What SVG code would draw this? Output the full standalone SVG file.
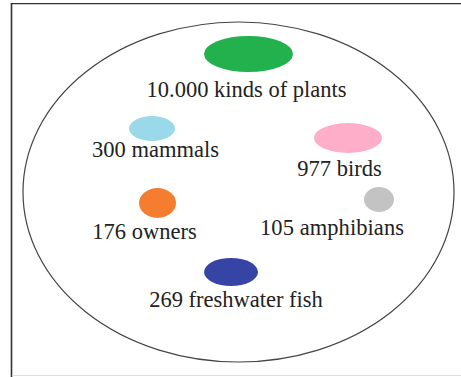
<svg xmlns="http://www.w3.org/2000/svg" width="461" height="377" viewBox="0 0 461 377">
<style>
text{font-family:"Liberation Serif","Times New Roman",serif;font-size:22.5px;fill:#222;text-anchor:middle}
</style>
<rect x="0" y="0" width="461" height="377" fill="#fff"/>
<g id="frame">
<line x1="11.5" y1="3" x2="11.5" y2="377" stroke="#333" stroke-width="1.6"/>
<line x1="11" y1="3.6" x2="461" y2="3.6" stroke="#333" stroke-width="1.4"/>
<line x1="12" y1="375.5" x2="461" y2="375.5" stroke="#ddd" stroke-width="1"/>
</g>
<g id="boundary">
<ellipse cx="238.5" cy="192" rx="215.5" ry="170" fill="none" stroke="#444" stroke-width="1.2"/>
</g>
<g id="plants">
<ellipse cx="248.5" cy="54" rx="44.5" ry="18" fill="#22b14c"/>
<text x="246.5" y="96.5">10.000 kinds of plants</text>
</g>
<g id="mammals">
<ellipse cx="152" cy="128.5" rx="23" ry="12.5" fill="#99d9ea"/>
<text x="155.5" y="157">300 mammals</text>
</g>
<g id="birds">
<ellipse cx="348" cy="138" rx="34" ry="15" fill="#ffaec9"/>
<text x="339.5" y="175.5">977 birds</text>
</g>
<g id="owners">
<ellipse cx="157.5" cy="203" rx="18.5" ry="15" fill="#f47d30"/>
<text x="144.5" y="239">176 owners</text>
</g>
<g id="amphibians">
<ellipse cx="379" cy="199.5" rx="15" ry="12.5" fill="#c3c3c3"/>
<text x="332" y="235" textLength="144" lengthAdjust="spacing">105 amphibians</text>
</g>
<g id="fish">
<ellipse cx="231" cy="272" rx="27" ry="14" fill="#3645a5"/>
<text x="236" y="306.5">269 freshwater fish</text>
</g>
<g id="connectors"></g>
</svg>
